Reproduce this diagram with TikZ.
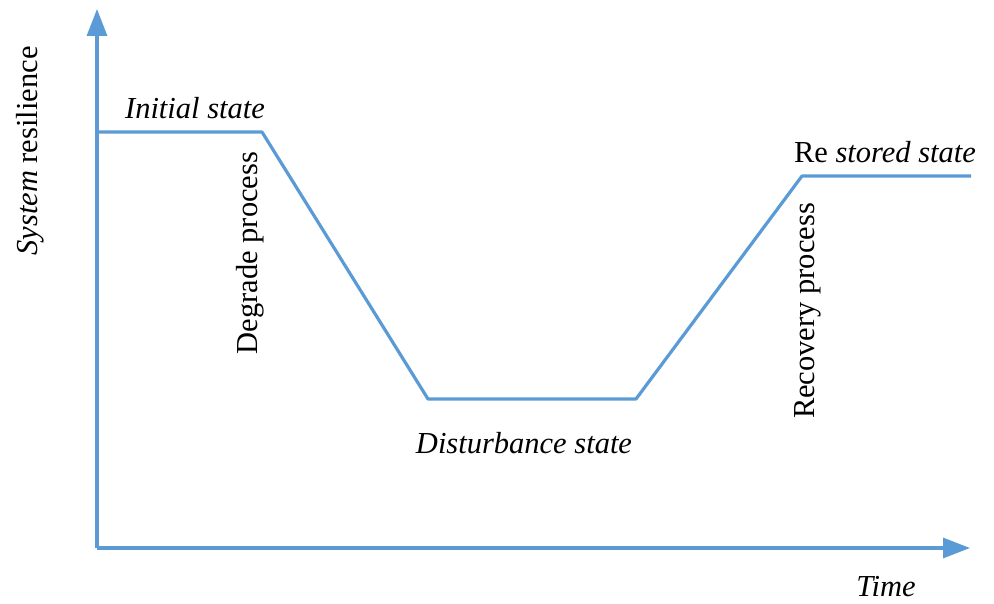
\documentclass[tikz,border=0pt]{standalone}
\usepackage{fontspec}
\setmainfont{Liberation Serif}
\usepackage{xcolor}
\usepackage{tikz}
\usetikzlibrary{arrows.meta,positioning}
\definecolor{rblue}{HTML}{5B9BD5}

\begin{document}
\begin{tikzpicture}[x=1pt,y=1pt,
    axis/.style={draw=rblue,line width=3.2pt,-{Triangle[length=27pt,width=20pt]}},
    curve/.style={draw=rblue,line width=3.2pt,line join=round},
    lbl/.style={font=\fontsize{30.5}{32}\selectfont,inner sep=0pt}]

      \useasboundingbox (0,0) rectangle (994,603);

      % axes
      \coordinate (o) at (97,55);
      \coordinate (ytop) at (97,594);
      \coordinate (xend) at (970,55);
      \draw[axis] (o) -- (ytop);
      \draw[axis] (o) -- (xend);

      % resilience curve
      \coordinate (s0) at (97,471);
      \coordinate (s1) at (262,471);
      \coordinate (s2) at (428,204);
      \coordinate (s3) at (636,204);
      \coordinate (s4) at (802,427);
      \coordinate (s5) at (971,427);
      \draw[curve] (s0) -- (s1) -- (s2) -- (s3) -- (s4) -- (s5);

      % labels
      \node[lbl] (ylab) at (30,452) [rotate=90] {\textit{System} resilience};
      \node[lbl] (xlab) at (886,16) {\textit{Time}};
      \node[lbl] (init) at (195,495) {\textit{Initial state}};
      \node[lbl] (degr) at (250,350) [rotate=90] {Degrade process};
      \node[lbl] (dist) at (524,160) {\textit{Disturbance state}};
      \node[lbl] (reco) at (808,292) [rotate=90] {Recovery process};
      \node[lbl] (rest) at (885,451) {Re \textit{stored state}};

\end{tikzpicture}
\end{document}
